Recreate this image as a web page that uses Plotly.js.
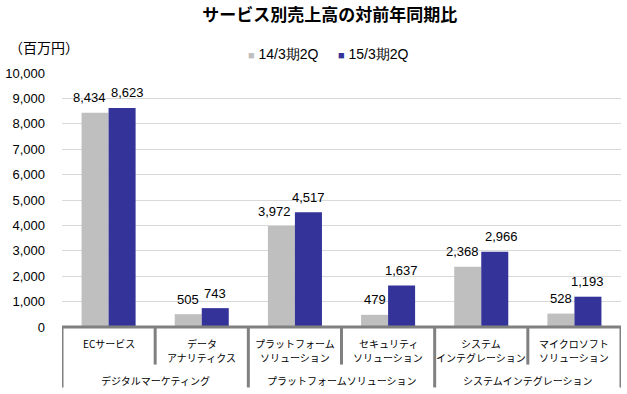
<!DOCTYPE html>
<html>
<head>
<meta charset="utf-8">
<script src="https://cdn.plot.ly/plotly-3.0.1.min.js"></script>
<style>html,body{margin:0;padding:0;background:#fff;}#chart{width:627px;height:394px;}</style>
</head>
<body>
<div id="chart"></div>
<script>
const categoryLines = [["ECサービス"], ["データ", "アナリティクス"], ["プラットフォーム", "ソリューション"], ["セキュリティ", "ソリューション"], ["システム", "インテグレーション"], ["マイクロソフト", "ソリューション"]];
const groups = ["デジタルマーケティング", "プラットフォームソリューション", "システムインテグレーション"];
const groupSpans = [[0, 1], [2, 3], [4, 5]];
const seriesNames = ["14/3期2Q", "15/3期2Q"];
const seriesColors = ["#BFBFBF", "#333399"];
const prevYear = [8434, 505, 3972, 479, 2368, 528];
const currYear = [8623, 743, 4517, 1637, 2966, 1193];
const yTicks = [0, 1000, 2000, 3000, 4000, 5000, 6000, 7000, 8000, 9000, 10000];

// label nudges (pixels) so neighbouring value labels do not collide, as in the original
const labelXShift = [[-6, 0, -7, 0, -5, 0], [5, 0, 0, 0, 7, 0]];

const idx = categoryLines.map((_, i) => i);
const nCat = categoryLines.length;
const jpFont = '"Noto Sans CJK JP", sans-serif';
const numFont = '"Liberation Sans", Arial, sans-serif';
const fmt = v => v.toLocaleString('en-US');
const bargap = 0.42;
const barW = (1 - bargap) / 2;

const series = [prevYear, currYear];
const traces = series.map((vals, s) => ({
  type: 'bar', name: seriesNames[s], x: idx, y: vals, marker: {color: seriesColors[s]},
  showlegend: false, hoverinfo: 'skip'
}));

const lineColor = '#808080';
const shapes = [];
shapes.push({type: 'line', xref: 'x', yref: 'paper', x0: -0.5, x1: nCat - 0.5, y0: 0, y1: 0,
  line: {color: lineColor, width: 3}});
for (let b = 0; b <= nCat; b++) {
  const isGroup = groupSpans.some(s => s[0] === b) || b === nCat;
  shapes.push({type: 'line', xref: 'x', yref: 'paper', x0: b - 0.5, x1: b - 0.5, y0: 0,
    y1: isGroup ? -0.238 : -0.148, line: {color: lineColor, width: 3}});
}

const annotations = [];
// value labels
series.forEach((vals, s) => {
  vals.forEach((v, i) => {
    annotations.push({xref: 'x', yref: 'y', x: i + (s === 0 ? -barW / 2 : barW / 2), y: v,
      yanchor: 'middle', xanchor: 'center', yshift: 15, xshift: labelXShift[s][i], showarrow: false,
      text: fmt(v), font: {family: numFont, size: 13, color: '#000'}});
  });
});
const lineY = [-0.063, -0.122];
categoryLines.forEach((lines, i) => {
  lines.forEach((t, j) => {
    annotations.push({xref: 'x', yref: 'paper', x: i, y: lineY[j], yanchor: 'middle', showarrow: false,
      text: t, font: {family: jpFont, size: 10, color: '#000'}});
  });
});
groups.forEach((g, k) => {
  const mid = (groupSpans[k][0] + groupSpans[k][1]) / 2;
  annotations.push({xref: 'x', yref: 'paper', x: mid, y: -0.209, yanchor: 'middle', showarrow: false,
    text: g, font: {family: jpFont, size: 10, color: '#000'}});
});
annotations.push({xref: 'paper', yref: 'paper', x: -0.032, y: 1.104, xanchor: 'center', yanchor: 'middle',
  showarrow: false, text: '（百万円）', font: {family: jpFont, size: 14, color: '#000'}});
// legend
const legendX = [0.329, 0.490];
seriesNames.forEach((n, s) => {
  annotations.push({xref: 'paper', yref: 'paper', x: legendX[s], y: 1.075, xanchor: 'left', yanchor: 'middle',
    showarrow: false, text: '<span style="color:' + seriesColors[s] + ';font-size:11px">■</span> ' + n,
    font: {family: numFont, size: 14, color: '#000'}});
});

const layout = {
  width: 627, height: 394,
  margin: {l: 62, r: 6, t: 73, b: 67},
  paper_bgcolor: '#fff', plot_bgcolor: '#fff',
  title: {text: '<b>サービス別売上高の対前年同期比</b>', x: 0.526, xanchor: 'center', y: 0.962, yanchor: 'middle',
    font: {family: jpFont, size: 17, color: '#000'}},
  barmode: 'group', bargap: bargap, bargroupgap: 0,
  showlegend: false,
  xaxis: {range: [-0.5, nCat - 0.5], showticklabels: false, showgrid: false,
    zeroline: false, showline: false, ticks: '', fixedrange: true},
  yaxis: {range: [0, 10000], tickvals: yTicks, ticktext: yTicks.map(fmt), showgrid: true,
    gridcolor: '#D9D9D9', gridwidth: 1, zeroline: false, showline: false, ticks: '',
    ticklabelstandoff: 16, tickfont: {family: numFont, size: 13, color: '#000'}},
  shapes: shapes,
  annotations: annotations
};

Plotly.newPlot('chart', traces, layout, {displayModeBar: false, staticPlot: true});
</script>
</body>
</html>
